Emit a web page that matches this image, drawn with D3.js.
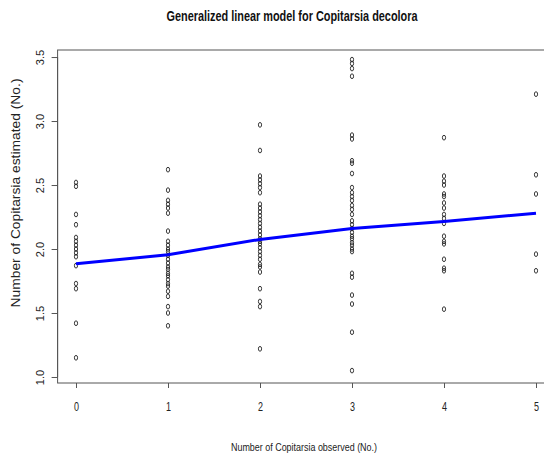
<!DOCTYPE html>
<html lang="en">
<head>
<meta charset="utf-8">
<title>Generalized linear model for Copitarsia decolora</title>
<script src="https://cdn.jsdelivr.net/npm/d3@7"></script>
<style>
  html, body { margin: 0; padding: 0; background: #fff; }
  svg { display: block; font-family: "Liberation Sans", Arial, sans-serif; }
  .pt { fill: none; stroke: #222; stroke-width: 0.9; }
  .tick text { fill: #222; }
</style>
</head>
<body>
<script>
// observed counts (x) and estimated values per count
var observed = [0, 1, 2, 3, 4, 5];
var est0 = [2.52, 2.49, 2.27, 2.19, 2.09, 2.06, 2.03, 2.00, 1.97, 1.94, 1.87, 1.73, 1.69, 1.42, 1.15];
var est1 = [2.62, 2.46, 2.38, 2.35, 2.32, 2.28, 2.14, 2.06, 2.03, 2.00, 1.98, 1.95, 1.92, 1.89, 1.86,
            1.84, 1.81, 1.79, 1.76, 1.73, 1.71, 1.67, 1.63, 1.55, 1.50, 1.40];
var est2 = [2.97, 2.77, 2.57, 2.54, 2.51, 2.48, 2.44, 2.35, 2.32, 2.29, 2.26, 2.23, 2.20, 2.17, 2.14,
            2.11, 2.08, 2.06, 2.04, 2.01, 1.98, 1.95, 1.92, 1.88, 1.86, 1.82, 1.69, 1.59, 1.55, 1.22];
var est3 = [3.48, 3.45, 3.41, 3.35, 2.89, 2.86, 2.69, 2.67, 2.59, 2.48, 2.44, 2.41, 2.38, 2.34, 2.31,
            2.27, 2.22, 2.19, 2.16, 2.13, 2.10, 2.08, 2.05, 2.03, 2.00, 1.98, 1.81, 1.78, 1.64, 1.57, 1.35, 1.05];
var est4 = [2.87, 2.57, 2.53, 2.50, 2.43, 2.41, 2.36, 2.32, 2.27, 2.24, 2.20, 2.10, 2.06, 2.04, 1.92,
            1.85, 1.83, 1.53];
var est5 = [3.21, 2.58, 2.43, 1.96, 1.83];
// fitted GLM curve
var fitted = [1.885, 1.955, 2.075, 2.16, 2.215, 2.28];
var xTicks = [0, 1, 2, 3, 4, 5];
var yTicks = [1.0, 1.5, 2.0, 2.5, 3.0, 3.5];

var W = 544, H = 454;
var svg = d3.select("body").append("svg").attr("width", W).attr("height", H);

// R style: 4% padding around data range
var x = d3.scaleLinear().domain([-0.2, 5.2]).range([57.6, 554.4]);
var y = d3.scaleLinear().domain([0.953, 3.555]).range([383, 50]);

var cols = [est0, est1, est2, est3, est4, est5];
var pts = [];
cols.forEach(function(c, i) {
  c.forEach(function(v) { pts.push({ x: observed[i], y: v }); });
});

// plot box
svg.append("rect")
  .attr("x", x(-0.2)).attr("y", y(3.555))
  .attr("width", x(5.2) - x(-0.2)).attr("height", y(0.953) - y(3.555))
  .attr("fill", "none").attr("stroke", "#555").attr("stroke-width", 1);

// x axis
var gx = svg.append("g").attr("transform", "translate(0," + y(0.953) + ")")
  .call(d3.axisBottom(x).tickValues(xTicks).tickSize(5).tickSizeOuter(0).tickPadding(14).tickFormat(d3.format("d")));
gx.select(".domain").remove();
gx.selectAll(".tick line").attr("stroke", "#555");
gx.selectAll(".tick text").attr("font-size", 12.5).attr("transform", "scale(0.72,1)")
  .attr("x", 0);

// y axis
var gy = svg.append("g").attr("transform", "translate(" + x(-0.2) + ",0)")
  .call(d3.axisLeft(y).tickValues(yTicks).tickSize(6).tickSizeOuter(0).tickFormat(d3.format(".1f")));
gy.select(".domain").attr("stroke", "#555").attr("d", "M0," + y(1) + "V" + y(3.5));
gy.selectAll(".tick line").attr("stroke", "#555");
gy.selectAll(".tick text")
  .attr("font-size", 11)
  .attr("text-anchor", "middle")
  .attr("x", 0).attr("dy", 0)
  .attr("transform", "translate(-14,0) rotate(-90)");

// points
svg.append("g").selectAll("ellipse").data(pts).enter().append("ellipse")
  .attr("class", "pt")
  .attr("cx", function(d) { return x(d.x); })
  .attr("cy", function(d) { return y(d.y); })
  .attr("rx", 1.6).attr("ry", 2.4);

// fitted line
var line = d3.line().x(function(d, i) { return x(observed[i]); }).y(function(d) { return y(d); });
svg.append("path").datum(fitted)
  .attr("d", line).attr("fill", "none")
  .attr("stroke", "#0000ff").attr("stroke-width", 3);

// titles
svg.append("text").attr("x", 292).attr("y", 21)
  .attr("text-anchor", "middle").attr("font-size", 14).attr("font-weight", "bold").attr("fill", "#111")
  .attr("textLength", 251).attr("lengthAdjust", "spacingAndGlyphs")
  .text("Generalized linear model for Copitarsia decolora");

svg.append("text").attr("x", 304).attr("y", 451)
  .attr("text-anchor", "middle").attr("font-size", 11).attr("fill", "#222")
  .attr("textLength", 146).attr("lengthAdjust", "spacingAndGlyphs")
  .text("Number of Copitarsia observed (No.)");

svg.append("text")
  .attr("transform", "translate(20,193) rotate(-90)")
  .attr("text-anchor", "middle").attr("font-size", 12.5).attr("fill", "#222")
  .attr("textLength", 229).attr("lengthAdjust", "spacingAndGlyphs")
  .text("Number of Copitarsia estimated (No.)");
</script>
</body>
</html>
